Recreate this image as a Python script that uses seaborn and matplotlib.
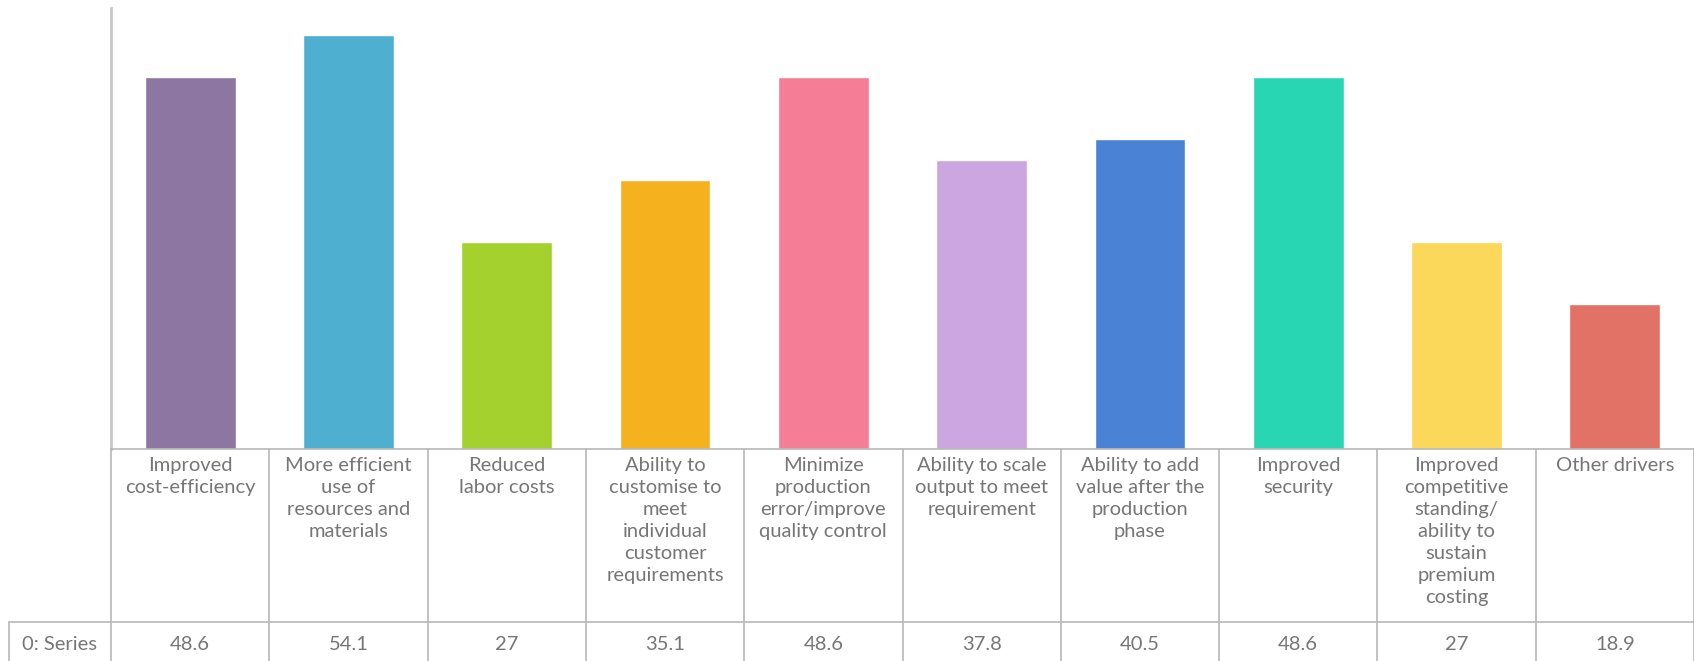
import matplotlib
matplotlib.use("Agg")
import matplotlib.pyplot as plt
import seaborn as sns
import pandas as pd

categories = [
    "Improved\ncost-efficiency",
    "More efficient\nuse of\nresources and\nmaterials",
    "Reduced\nlabor costs",
    "Ability to\ncustomise to\nmeet\nindividual\ncustomer\nrequirements",
    "Minimize\nproduction\nerror/improve\nquality control",
    "Ability to scale\noutput to meet\nrequirement",
    "Ability to add\nvalue after the\nproduction\nphase",
    "Improved\nsecurity",
    "Improved\ncompetitive\nstanding/\nability to\nsustain\npremium\ncosting",
    "Other drivers",
]
values = [48.6, 54.1, 27, 35.1, 48.6, 37.8, 40.5, 48.6, 27, 18.9]
value_labels = ["48.6", "54.1", "27", "35.1", "48.6", "37.8", "40.5", "48.6", "27", "18.9"]
series_name = "0: Series"
colors = ["#8e76a2", "#4eafd0", "#a5d12f", "#f5b21e", "#f57e96",
          "#cba6e1", "#4a82d5", "#29d6b4", "#fbd85a", "#e27265"]

sns.set_style("white")
plt.rcParams["font.family"] = ["Lato", "DejaVu Sans"]

W, H = 1694, 661
fig = plt.figure(figsize=(W / 100, H / 100), dpi=100)

x_left = 111
base_y = 449
top_y = 8
ax = fig.add_axes([x_left / W, (H - base_y) / H, (W - x_left) / W, (base_y - top_y) / H])

df = pd.DataFrame({"cat": categories, "val": values})
sns.barplot(data=df, x="cat", y="val", hue="cat", palette=colors, legend=False,
            width=0.573, ax=ax, saturation=1)
ax.set_xlim(-0.5, len(categories) - 0.5)
ax.set_ylim(0, 57.6)
ax.set_xticks([])
ax.set_yticks([])
ax.set_xlabel("")
ax.set_ylabel("")
for s in ["top", "right", "bottom"]:
    ax.spines[s].set_visible(False)
ax.spines["left"].set_color("#c8c8c8")
ax.spines["left"].set_linewidth(2)

# table axes below
tax = fig.add_axes([x_left / W, 0, (W - x_left) / W, (H - base_y) / H])
tax.set_xlim(-0.5, len(categories) - 0.5)
tab_h = H - base_y  # 212
tax.set_ylim(0, tab_h)
tax.axis("off")
lc = "#b8b8b8"
lw = 1.2
colw = (W - x_left) / len(categories)
lab_left = -0.5 - (x_left - 8.6) / colw
row_line = H - 622  # 39
tax.plot([-0.5, len(categories) - 0.5], [tab_h, tab_h], color=lc, lw=lw, clip_on=False)
tax.plot([lab_left, len(categories) - 0.5], [row_line, row_line], color=lc, lw=lw, clip_on=False)
for i in range(len(categories) + 1):
    tax.plot([-0.5 + i, -0.5 + i], [0, tab_h], color=lc, lw=lw, clip_on=False)
tax.plot([lab_left, lab_left], [0, row_line], color=lc, lw=lw, clip_on=False)

tc = "#767676"
fs = 14.5
for i, (c, v) in enumerate(zip(categories, value_labels)):
    tax.text(i, tab_h - 8, c, ha="center", va="top", fontsize=fs, color=tc,
             linespacing=1.36)
    tax.text(i, H - 645, v, ha="center", va="center", fontsize=fs, color=tc)
tax.text((lab_left - 0.5) / 2, H - 645, series_name, ha="center", va="center",
         fontsize=fs, color=tc, clip_on=False)

fig.savefig("out.png", dpi=100)
